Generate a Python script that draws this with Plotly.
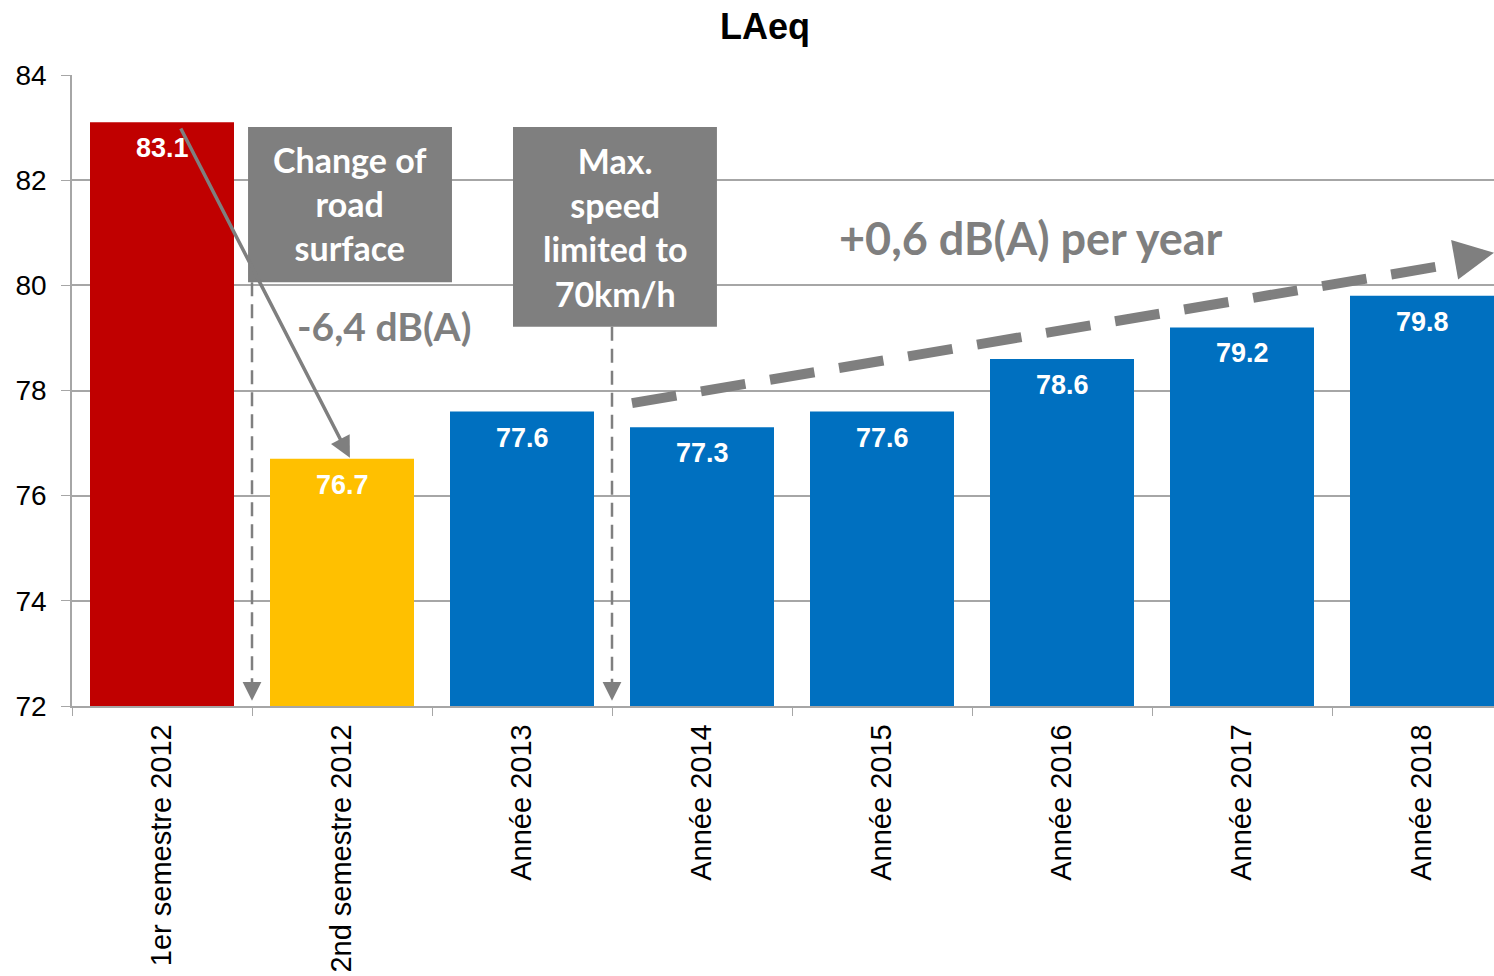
import plotly.graph_objects as go

categories = ['1er semestre 2012', '2nd semestre 2012', 'Année 2013', 'Année 2014',
              'Année 2015', 'Année 2016', 'Année 2017', 'Année 2018']
laeq = [83.1, 76.7, 77.6, 77.3, 77.6, 78.6, 79.2, 79.8]
bar_colors = ['#C00000', '#FFC000', '#0070C0', '#0070C0',
              '#0070C0', '#0070C0', '#0070C0', '#0070C0']

grey = '#7f7f7f'
axis_grey = '#a6a6a6'
narrow = 'Liberation Sans Narrow, Arial Narrow, Liberation Sans, Arial, sans-serif'
label_font = 'Lato, Open Sans, sans-serif'

fig = go.Figure(go.Bar(
    x=categories, y=laeq,
    marker=dict(color=bar_colors, line=dict(width=0)),
    hoverinfo='x+y',
))

# valeurs dans les barres
annotations = []
for c, v in zip(categories, laeq):
    annotations.append(dict(x=c, y=v, text=f'<b>{v}</b>', showarrow=False,
                            yanchor='middle', yshift=-26,
                            font=dict(family=narrow, size=27, color='white')))

# encadrés gris
shapes = [
    dict(type='rect', x0=0.478, x1=1.611, y0=80.06, y1=83.01,
         fillcolor=grey, line=dict(width=0), layer='above'),
    dict(type='rect', x0=1.95, x1=3.083, y0=79.21, y1=83.01,
         fillcolor=grey, line=dict(width=0), layer='above'),
    # lignes verticales pointillées
    dict(type='line', x0=0.5, x1=0.5, y0=80.06, y1=72.2,
         line=dict(color=grey, width=2.5, dash='14px,8px'), layer='above'),
    dict(type='line', x0=2.5, x1=2.5, y0=79.21, y1=72.2,
         line=dict(color=grey, width=2.5, dash='14px,8px'), layer='above'),
    # tendance
    dict(type='line', x0=2.611, x1=7.23, y0=77.76, y1=80.44,
         line=dict(color=grey, width=10, dash='45px,25px'), layer='above'),
]

annotations += [
    dict(x=1.044, y=81.55, text='<b>Change of<br>road<br>surface</b>', showarrow=False,
         font=dict(family=label_font, size=34, color='white')),
    dict(x=2.517, y=81.11, text='<b>Max.<br>speed<br>limited to<br>70km/h</b>', showarrow=False,
         font=dict(family=label_font, size=34, color='white')),
    dict(x=1.233, y=79.23, text='<b>-6,4 dB(A)</b>', showarrow=False,
         font=dict(family=label_font, size=39, color=grey)),
    dict(x=4.828, y=80.9, text='<b>+0,6 dB(A) per year</b>', showarrow=False,
         font=dict(family=label_font, size=45, color=grey)),
    # flèche -6,4
    dict(x=1.044, y=76.72, ax=0.1, ay=83.01, axref='x', ayref='y', text='',
         showarrow=True, arrowhead=2, arrowsize=1.2, arrowwidth=3.5, arrowcolor=grey,
         standoff=0, startstandoff=0),
    # pointes des lignes verticales
    dict(x=0.5, y=72.1, ax=0, ay=-14, text='', showarrow=True, arrowhead=2,
         arrowsize=1.5, arrowwidth=2.5, arrowcolor=grey, standoff=0),
    dict(x=2.5, y=72.1, ax=0, ay=-14, text='', showarrow=True, arrowhead=2,
         arrowsize=1.5, arrowwidth=2.5, arrowcolor=grey, standoff=0),
    # pointe de la tendance
    dict(x=7.4, y=80.62, ax=-28, ay=5, text='', showarrow=True, arrowhead=2,
         arrowsize=0.8, arrowwidth=10, arrowcolor=grey, standoff=0),
]

fig.update_layout(
    title=dict(text='<b>LAeq</b>', x=0.512, xanchor='center', y=0.973, yanchor='middle',
               automargin=False,
               font=dict(family='Liberation Sans, Arial, sans-serif', size=36, color='black')),
    width=1494, height=976,
    margin=dict(l=72, r=0, t=75, b=270),
    plot_bgcolor='white', paper_bgcolor='white',
    bargap=0.2,
    showlegend=False,
    shapes=shapes,
    annotations=annotations,
)

# la dernière catégorie est coupée au bord droit, comme dans l'original
fig.update_xaxes(type='category', range=[-0.5, 7.4], tickangle=-90, tickson='boundaries',
                 automargin=False,
                 ticks='outside', ticklen=8, tickcolor=axis_grey, ticklabelstandoff=5,
                 showline=True, linecolor=axis_grey, linewidth=1.5,
                 tickfont=dict(family='Liberation Sans, Arial, sans-serif', size=29, color='black'))
fig.update_yaxes(range=[72, 84], dtick=2, ticks='outside', ticklen=9, tickcolor=axis_grey,
                 automargin=False, ticklabelstandoff=9,
                 showline=True, linecolor=axis_grey, linewidth=1.5,
                 showgrid=True, gridcolor=axis_grey, gridwidth=1.5, zeroline=False,
                 tickfont=dict(family='Liberation Sans, Arial, sans-serif', size=28, color='black'))

# pas de marge de page autour du graphique
fig.write_html('out.html', config={'displayModeBar': False},
               post_script="document.body.style.margin='0';"
                           "document.body.style.overflow='hidden';")
